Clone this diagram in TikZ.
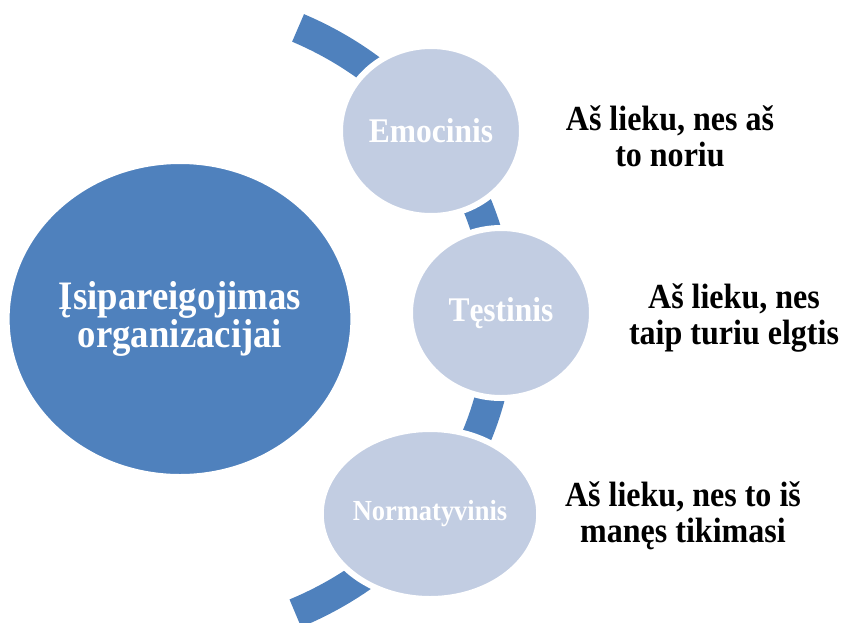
\documentclass[tikz,border=0pt]{standalone}
\usepackage{fontspec}
\setmainfont{Liberation Serif}
\newfontfamily\tallserif[FakeStretch=0.91]{Liberation Serif}
\usetikzlibrary{shapes.geometric}
\definecolor{accentblue}{RGB}{79,129,189}
\definecolor{lightblue}{RGB}{194,205,226}
\begin{document}
\begin{tikzpicture}[x=1pt,y=-1pt,
  bigcirc/.style={ellipse, fill=accentblue, draw=white, line width=2pt, inner sep=0pt,
    minimum width=336pt, minimum height=312pt, text=white, align=center,
    font=\tallserif\fontsize{40.4}{35}\selectfont\bfseries},
  smallcirc/.style={ellipse, fill=lightblue, draw=white, line width=6pt, inner sep=0pt,
    minimum width=182pt, minimum height=170pt, text=white, align=center,
    font=\tallserif\fontsize{34.6}{36}\selectfont\bfseries},
  note/.style={align=center, inner sep=0pt, text=black,
    font=\tallserif\fontsize{35.2}{36}\selectfont\bfseries},
  bandline/.style={draw=accentblue, line width=30pt}
]
\useasboundingbox (0,0) rectangle (846,622);
\coordinate (arcc) at (155,320);
\draw[bandline] (arcc) ++(-65.5:345 and 321)
  arc[start angle=-65.5, end angle=66, x radius=345, y radius=321];

\node[bigcirc] (main) at (180,319) {Įsipareigojimas\\organizacijai};
\node[smallcirc] (emo) at (431,131) {Emocinis};
\node[smallcirc] (tes) at (501,313) {Tęstinis};
\node[smallcirc, font=\tallserif\fontsize{29.1}{30}\selectfont\bfseries] (norm) at (430,514) {Normatyvinis};

\node[note] (t1) at (670,136) {Aš lieku, nes aš\\to noriu};
\node[note] (t2) at (734,318) {Aš lieku, nes\\taip turiu elgtis};
\node[note] (t3) at (683,516) {Aš lieku, nes to iš\\manęs tikimasi};
\end{tikzpicture}
\end{document}
